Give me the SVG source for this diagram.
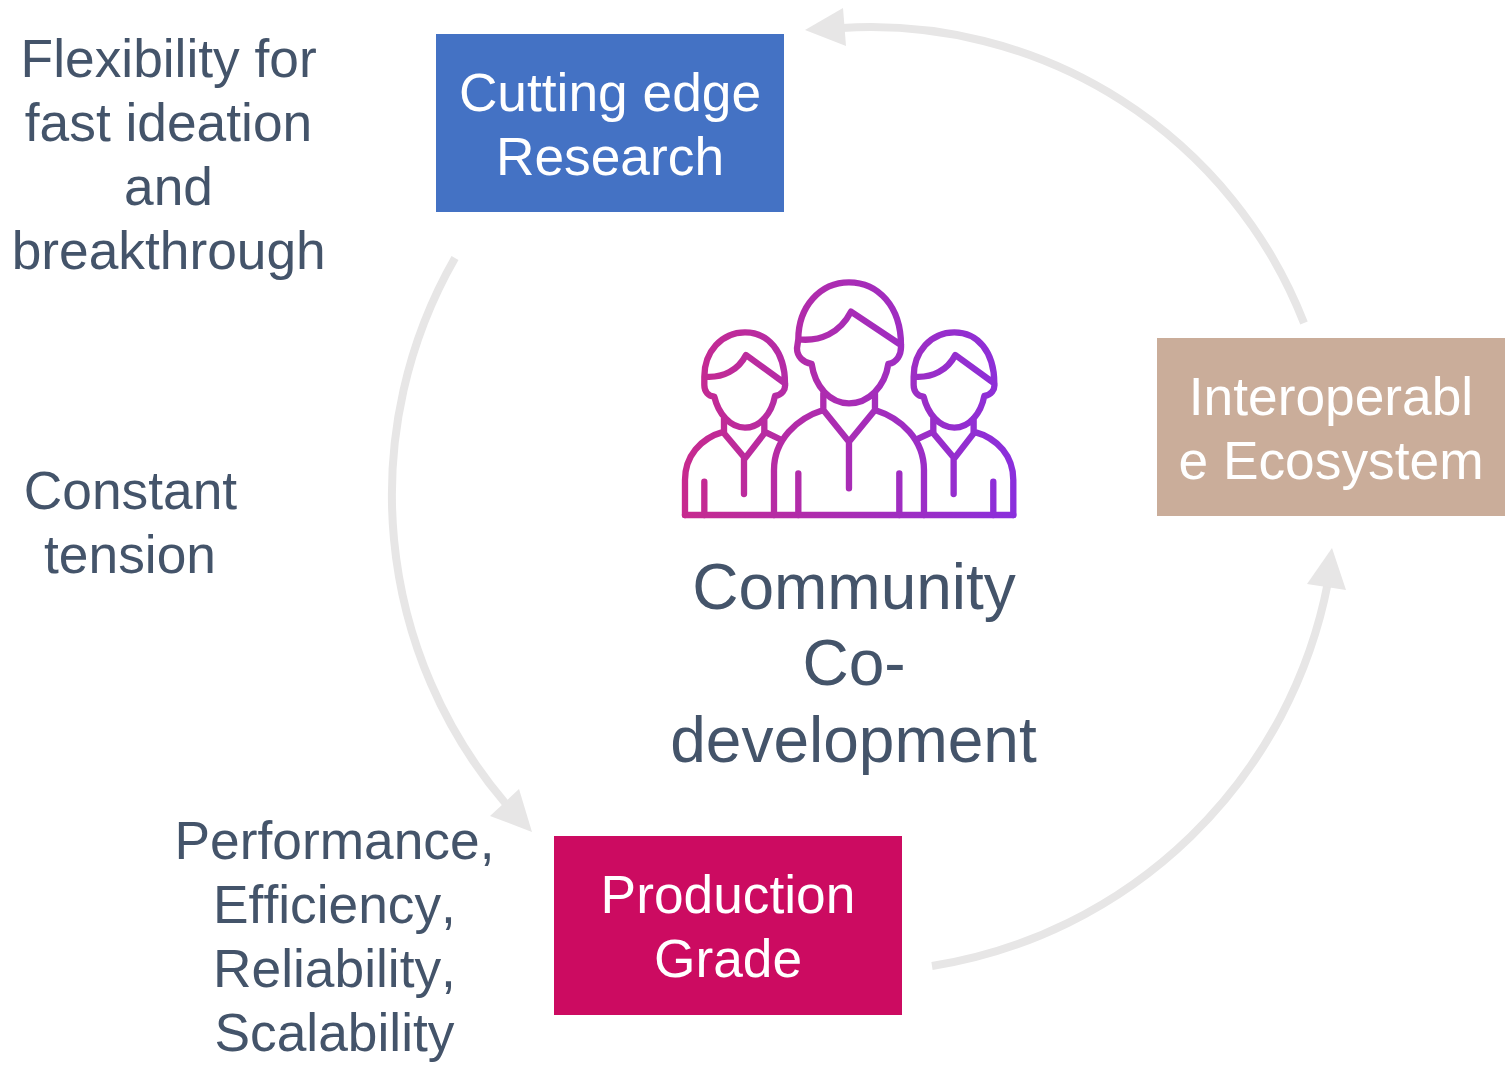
<svg xmlns="http://www.w3.org/2000/svg" width="1511" height="1067" viewBox="0 0 1511 1067">
<style>
text{font-family:"Liberation Sans",Arial,sans-serif;text-anchor:middle}
.l{font-size:53.3px;fill:#44546A}
.b{font-size:53.3px;fill:#fff}
.c{font-size:64px;fill:#44546A}
.n{font-kerning:none;font-variant-ligatures:none}
.a{fill:none;stroke:#E7E6E6;stroke-width:8}
.h{fill:#E7E6E6}
.i{fill:none;stroke:url(#g);stroke-width:19;stroke-linecap:round;stroke-linejoin:round}
</style>
<defs>
<linearGradient id="g" gradientUnits="userSpaceOnUse" x1="40" y1="400" x2="1035" y2="400">
<stop offset="0" stop-color="#C72A8E"/><stop offset="1" stop-color="#8A2FDC"/>
</linearGradient>
</defs>
<rect width="1511" height="1067" fill="#fff"/>
<g id="connectors">
<path class="a" d="M1304,323 A465,465 0 0 0 842,28"/>
<polygon class="h" points="805,30 843,8 846,46"/>
<path class="a" d="M455,258 A476,476 0 0 0 506,804"/>
<polygon class="h" points="532,832 519,789 490,816"/>
<path class="a" d="M932,966 A480,480 0 0 0 1328,582"/>
<polygon class="h" points="1332,548 1307,584 1346,590"/>
</g>
<g id="research"><rect x="436" y="34" width="348" height="178" fill="#4472C4"/>
<text class="b" x="610" y="111">Cutting edge</text><text class="b" x="610" y="175">Research</text></g>
<g id="ecosystem"><rect x="1157" y="338" width="348" height="178" fill="#CAAD9A"/>
<text class="b" x="1331" y="415">Interoperabl</text><text class="b" x="1331" y="479">e Ecosystem</text></g>
<g id="production"><rect x="554" y="836" width="348" height="179" fill="#CC0B61"/>
<text class="b" x="728" y="913">Production</text><text class="b" x="728" y="977">Grade</text></g>
<g id="flexibility"><text class="l" x="168.7" y="77">Flexibility for</text><text class="l" x="168.5" y="141">fast ideation</text><text class="l" x="168.5" y="205">and</text><text class="l" x="168.7" y="269">breakthrough</text></g>
<g id="tension"><text class="l" x="130.5" y="509">Constant</text><text class="l" x="130" y="573">tension</text></g>
<g id="performance"><text class="l n" x="334.5" y="859">Performance,</text><text class="l n" x="334.5" y="923">Efficiency,</text><text class="l n" x="334.5" y="987">Reliability,</text><text class="l n" x="334.5" y="1051">Scalability</text></g>
<g id="community"><g transform="translate(670,270) scale(.3333)">
<path class="i" d="M385,208C385,110 450,37 537,37C625,37 693,110 693,225M385,208C450,215 510,190 543,125L693,225M385,208L381,235C381,260 400,278 425,282C435,350 480,400 537,400C595,400 645,350 655,282C680,278 695,255 693,225M460,370V420L537,515L615,420V370M460,420C380,445 312,510 312,600V735M615,420C695,445 762,510 762,600V735M537,515V655M385,610V735M688,610V735"/>
<path class="i" d="M103,320C103,245 155,187 225,187C295,187 345,245 345,340M103,320C160,325 205,300 228,255L345,340M103,320V345C103,365 115,378 133,380C145,430 180,473 225,473C270,473 305,430 315,378C335,375 348,360 345,340M162,445V490L225,565L283,490V445M162,485C90,505 45,560 45,630V735M283,485L335,510M222,565V672M103,635V735"/>
<path class="i" d="M731,320C731,245 783,187 853,187C923,187 973,245 973,340M731,320C788,325 833,300 856,255L973,340M731,320V345C731,365 743,378 761,380C773,430 808,473 853,473C898,473 933,430 943,378C963,375 976,360 973,340M790,445V490L853,565L911,490V445M911,485C985,505 1030,560 1030,630V735M790,485L740,508M851,565V672M970,635V735"/>
<path class="i" d="M45,735H1030"/>
</g>
<text class="c" x="854" y="609">Community</text><text class="c" x="854" y="685">Co-</text><text class="c" x="853.5" y="762">development</text></g>
</svg>
